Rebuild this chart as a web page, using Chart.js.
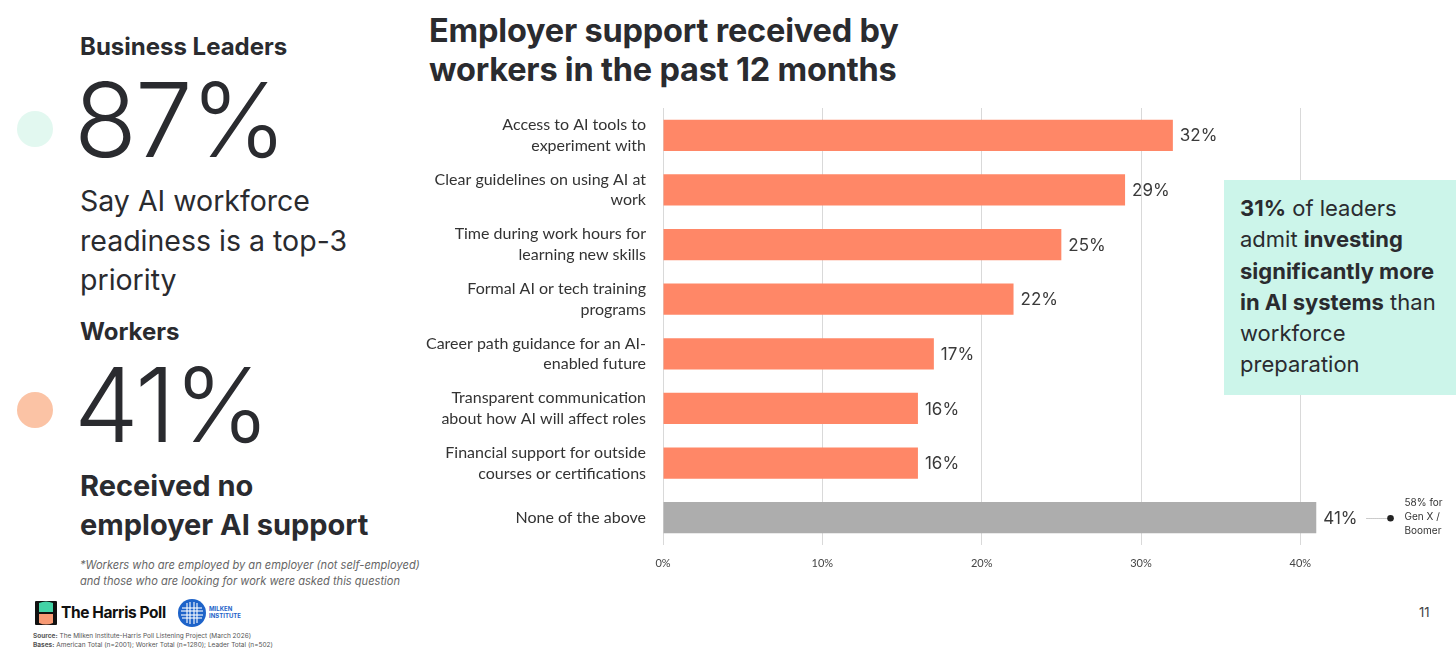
<!DOCTYPE html>
<html>
<head>
<meta charset="utf-8">
<script src="https://cdn.jsdelivr.net/npm/chart.js@4.4.1/dist/chart.umd.min.js"></script>
<style>
  html,body{margin:0;padding:0;background:#fff;}
  body{width:1456px;height:656px;position:relative;overflow:hidden;font-family:Inter,"Noto Sans",sans-serif;color:#2a2b2f;}
  .abs{position:absolute;white-space:nowrap;}
  #wrap{position:absolute;left:420px;top:100px;width:1036px;height:480px;}
</style>
</head>
<body>
<!-- left panel -->
<div class="abs" style="left:80px;top:32px;font-size:24px;font-weight:700;line-height:30px;">Business Leaders</div>
<div class="abs" style="left:17px;top:111px;width:36px;height:36px;border-radius:50%;background:#e2f8f0;"></div>
<div class="abs" style="left:74px;top:65px;font-size:103px;font-weight:300;line-height:110px;letter-spacing:-2px;">87%</div>
<div class="abs" style="left:80px;top:181px;font-size:28.5px;font-weight:400;line-height:39.5px;">Say AI workforce<br>readiness is a top-3<br>priority</div>
<div class="abs" style="left:80px;top:317px;font-size:24px;font-weight:700;line-height:30px;">Workers</div>
<div class="abs" style="left:17px;top:392px;width:36px;height:36px;border-radius:50%;background:#fbc3a5;"></div>
<div class="abs" style="left:74px;top:350px;font-size:103px;font-weight:300;line-height:110px;letter-spacing:-2px;">41%</div>
<div class="abs" style="left:80px;top:466px;font-size:29px;font-weight:700;line-height:39px;">Received no<br>employer AI support</div>
<div class="abs" style="left:80px;top:557px;font-size:11.1px;font-style:italic;line-height:16px;color:#666;">*Workers who are employed by an employer (not self-employed)<br>and those who are looking for work were asked this question</div>

<!-- logos -->
<svg class="abs" style="left:35px;top:601px;" width="22" height="24" viewBox="0 0 22 24">
  <rect x="0" y="0" width="22" height="24" rx="1" fill="#111"/>
  <path d="M4 2 Q11 -1 18 2 L18 11 L4 11 Z" fill="#43d3a6"/>
  <path d="M4 13 L18 13 L18 22 Q11 25 4 22 Z" fill="#f89a74"/>
</svg>
<div class="abs" style="left:61px;top:602px;font-size:15.5px;font-weight:700;line-height:22px;color:#111;letter-spacing:-0.4px;">The Harris Poll</div>
<svg class="abs" style="left:178px;top:599px;" width="70" height="30" viewBox="0 0 70 30">
  <circle cx="14" cy="14" r="14" fill="#1e63c9"/>
  <g stroke="#fff" stroke-width="1.1">
    <line x1="9" y1="4" x2="9" y2="24"/><line x1="12" y1="3" x2="12" y2="25"/>
    <line x1="16" y1="3" x2="16" y2="25"/><line x1="19" y1="4" x2="19" y2="24"/>
    <line x1="4" y1="9" x2="24" y2="9"/><line x1="3" y1="12" x2="25" y2="12"/>
    <line x1="3" y1="16" x2="25" y2="16"/><line x1="4" y1="19" x2="24" y2="19"/>
  </g>
  <text x="31" y="12" font-family="Inter,sans-serif" font-size="6" font-weight="700" fill="#1e63c9">MILKEN</text>
  <text x="31" y="19" font-family="Inter,sans-serif" font-size="6" font-weight="700" fill="#1e63c9">INSTITUTE</text>
</svg>
<div class="abs" style="left:33px;top:632px;font-size:6.5px;line-height:9px;color:#555;"><b>Source:</b> The Milken Institute-Harris Poll Listening Project (March 2026)<br><b>Bases:</b> American Total (n=2001); Worker Total (n=1280); Leader Total (n=502)</div>
<div class="abs" style="left:1419px;top:604px;font-size:13px;line-height:16px;color:#444;">11</div>

<!-- title -->
<div class="abs" style="left:429px;top:11px;font-size:32.5px;font-weight:700;line-height:39px;color:#2a2b2f;letter-spacing:-0.2px;">Employer support received by<br>workers in the past 12 months</div>

<div id="wrap"><canvas id="c" width="1036" height="480"></canvas></div>

<!-- callout -->
<div class="abs" style="left:1224px;top:180px;width:232px;height:215px;background:#ccf5ea;"></div>
<div class="abs" style="left:1240px;top:193px;font-size:22px;line-height:31.3px;color:#2a2b2f;"><b>31%</b> of leaders<br>admit <b>investing</b><br><b>significantly more</b><br><b>in AI systems</b> than<br>workforce<br>preparation</div>

<script>
const categories = [
  ["Access to AI tools to", "experiment with"],
  ["Clear guidelines on using AI at", "work"],
  ["Time during work hours for", "learning new skills"],
  ["Formal AI or tech training", "programs"],
  ["Career path guidance for an AI-", "enabled future"],
  ["Transparent communication", "about how AI will affect roles"],
  ["Financial support for outside", "courses or certifications"],
  ["None of the above"]
];
const values = [32, 29, 25, 22, 17, 16, 16, 41];
const barColors = ["#ff8767","#ff8767","#ff8767","#ff8767","#ff8767","#ff8767","#ff8767","#adadad"];
const xTicks = [0, 10, 20, 30, 40];
const noteLines = ["58% for", "Gen X /", "Boomer"];

const labelPlugin = {
  id: 'valueLabels',
  afterDatasetsDraw(chart) {
    const ctx = chart.ctx;
    const meta = chart.getDatasetMeta(0);
    ctx.save();
    meta.data.forEach((bar, i) => {
      const txt = values[i] + '%';
      ctx.font = '400 17px Inter, sans-serif';
      ctx.fillStyle = '#3a3a3a';
      ctx.textAlign = 'left';
      ctx.textBaseline = 'middle';
      const x0 = bar.x + 7;
      ctx.fillText(txt, x0, bar.y + 1);
      if (i === values.length - 1) {
        const w = ctx.measureText(txt).width;
        const lx = x0 + w + 9;
        ctx.fillStyle = '#999';
        for (let px = lx; px < lx + 22; px += 2) ctx.fillRect(px, Math.round(bar.y), 1, 1);
        ctx.fillStyle = '#222';
        ctx.beginPath();
        ctx.arc(lx + 24, bar.y + 0.5, 3.3, 0, Math.PI * 2);
        ctx.fill();
        ctx.font = '400 10px Inter, sans-serif';
        ctx.fillStyle = '#333';
        noteLines.forEach((t, k) => ctx.fillText(t, lx + 38, bar.y - 15 + k * 14));
      }
    });
    ctx.restore();
  }
};

new Chart(document.getElementById('c'), {
  type: 'bar',
  data: {
    labels: categories,
    datasets: [{
      data: values,
      backgroundColor: barColors,
      borderWidth: 0,
      categoryPercentage: 1,
      barPercentage: 0.57
    }]
  },
  options: {
    indexAxis: 'y',
    responsive: false,
    animation: false,
    layout: { padding: { top: 8, right: 76, bottom: 0, left: 0 } },
    plugins: { legend: { display: false }, tooltip: { enabled: false } },
    scales: {
      x: {
        min: 0, max: 45,
        afterBuildTicks(axis) { axis.ticks = xTicks.map(v => ({ value: v })); },
        afterFit(axis) { axis.height = 35; axis.paddingLeft = 0; axis.paddingRight = 0; },
        grid: { color: '#d9d9d9', drawTicks: false, lineWidth: 1 },
        border: { display: false },
        ticks: {
          padding: 12,
          color: '#444',
          font: { family: 'Lato, "Open Sans", sans-serif', size: 11 },
          callback: v => v + '%'
        }
      },
      y: {
        afterFit(axis) { axis.width = 243; axis.paddingTop = 0; axis.paddingBottom = 0; },
        grid: { display: false, drawTicks: false },
        border: { display: false },
        ticks: {
          padding: 17,
          color: '#333',
          font: { family: 'Lato, "Open Sans", sans-serif', size: 16, lineHeight: 1.3 }
        }
      }
    }
  },
  plugins: [labelPlugin]
});
</script>
</body>
</html>
